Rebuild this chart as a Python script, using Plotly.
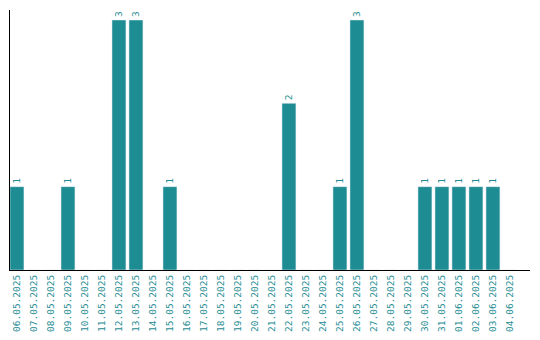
import plotly.graph_objects as go

dates = ["06.05.2025", "07.05.2025", "08.05.2025", "09.05.2025", "10.05.2025",
         "11.05.2025", "12.05.2025", "13.05.2025", "14.05.2025", "15.05.2025",
         "16.05.2025", "17.05.2025", "18.05.2025", "19.05.2025", "20.05.2025",
         "21.05.2025", "22.05.2025", "23.05.2025", "24.05.2025", "25.05.2025",
         "26.05.2025", "27.05.2025", "28.05.2025", "29.05.2025", "30.05.2025",
         "31.05.2025", "01.06.2025", "02.06.2025", "03.06.2025", "04.06.2025"]
counts = [1, 0, 0, 1, 0, 0, 3, 3, 0, 1,
          0, 0, 0, 0, 0, 0, 2, 0, 0, 1,
          3, 0, 0, 0, 1, 1, 1, 1, 1, 0]

teal = "#1e8c93"
labels = [str(v) if v > 0 else "" for v in counts]

fig = go.Figure(go.Bar(
    x=dates, y=counts, marker_color=teal,
    text=labels, textposition="outside", textangle=-90,
    textfont=dict(color=teal, size=9.5, family="DejaVu Sans Mono"),
    cliponaxis=False, hoverinfo="skip",
))
fig.update_layout(
    width=540, height=340,
    margin=dict(l=10, r=10, t=10, b=70, autoexpand=False),
    paper_bgcolor="white", plot_bgcolor="white",
    bargap=0.18, showlegend=False,
    font=dict(family="DejaVu Sans Mono", size=9.5, color=teal),
)
fig.update_xaxes(type="category", range=[-0.41, 30.18], tickangle=-90,
                 showline=True, linecolor="black", linewidth=1, automargin=False,
                 showgrid=False, ticks="", tickfont=dict(color=teal, size=9.5))
fig.update_yaxes(range=[0, 3.12], showline=True, linecolor="black", linewidth=1,
                 automargin=False,
                 showgrid=False, showticklabels=False, ticks="", zeroline=False)
fig.write_html("out.html", config={"displayModeBar": False},
               post_script="document.body.style.margin='0';document.body.style.overflow='hidden';")
